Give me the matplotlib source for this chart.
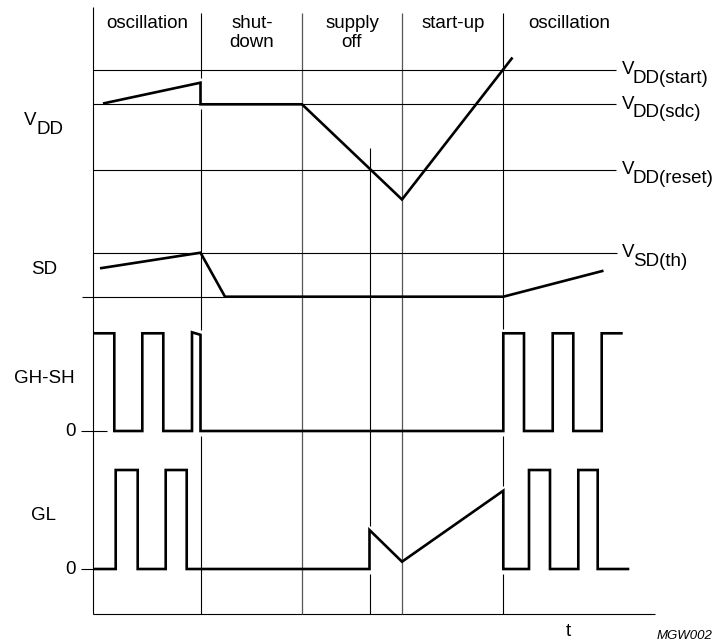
import matplotlib
matplotlib.use("Agg")
import matplotlib.pyplot as plt
import numpy as np

plt.rcParams['font.family'] = ['Liberation Sans', 'DejaVu Sans']

# ---------------- data (diagram units: time -> x, signal level -> y, y grows downward) ----------------
phase_names = ["oscillation", "shut-\ndown", "supply\noff", "start-up", "oscillation"]
phase_centers = [147, 252, 352, 453, 569]
phase_bounds = [200.5, 302, 402, 503.3]
supply_off_marker = 369.5

# threshold levels
vdd_levels = [69.5, 104.3, 169.5]
vdd_level_names = ["DD(start)", "DD(sdc)", "DD(reset)"]
sd_th_level = 252.5
sd_low_level = 296.7
sd_th_name = "SD(th)"

# VDD trace
vdd_t = [103, 200.5, 200.5, 302, 402, 512.5]
vdd_v = [103.5, 82.7, 104.3, 104.3, 199.5, 57.5]

# SD trace
sd_t = [100, 200.5, 225, 503.3, 603.5]
sd_v = [268.3, 252.7, 296.7, 296.7, 270.7]

# GH-SH trace
gh_high, gh_zero = 333.3, 431
gh_t = [93, 114.3, 114.3, 142.3, 142.3, 163.3, 163.3, 192, 192, 200.5, 200.5,
        503.3, 503.3, 524, 524, 552.7, 552.7, 573.3, 573.3, 601.7, 601.7, 622.7]
gh_v = [333.3, 333.3, 431, 431, 333.3, 333.3, 431, 431, 332.3, 334.8, 431,
        431, 333.3, 333.3, 431, 431, 333.3, 333.3, 431, 431, 333.3, 333.3]

# GL trace
gl_high, gl_zero = 470, 569
gl_t = [93, 115.7, 115.7, 137.7, 137.7, 165.7, 165.7, 186.7, 186.7, 369.5, 369.5,
        402, 503.3, 503.3, 529, 529, 550, 550, 578.3, 578.3, 597.7, 597.7, 629.3]
gl_v = [569, 569, 470, 470, 569, 569, 470, 470, 569, 569, 530,
        561.7, 490.7, 569, 569, 470, 470, 569, 569, 470, 470, 569, 569]

row_labels = ["SD", "GH-SH", "GL"]
row_label_y = [269, 378, 515]

# ---------------- figure ----------------
fig = plt.figure(figsize=(7.15, 6.44), dpi=100)
ax = fig.add_axes([0, 0, 1, 1])
ax.set_xlim(0, 715)
ax.set_ylim(644, 0)
ax.axis('off')

thin = dict(color='black', lw=0.8, solid_capstyle='butt', zorder=1)
grayl = dict(color='#555555', lw=0.9, solid_capstyle='butt', zorder=1)
trace = dict(color='black', lw=1.9, solid_joinstyle='miter', solid_capstyle='butt', zorder=4)

# axes lines
ax.plot([93, 93], [7, 614], **thin)
ax.plot([93, 655], [614, 614], **thin)

# phase dividers
for i, xb in enumerate(phase_bounds):
    style = grayl if i in (1, 2) else thin
    ax.plot([xb, xb], [13, 614], **style)
ax.plot([supply_off_marker, supply_off_marker], [148, 614], **thin)

# threshold lines
for lv in vdd_levels:
    ax.plot([93, 616], [lv, lv], **thin)
ax.plot([93, 617], [sd_th_level, sd_th_level], **thin)
ax.plot([82, 225], [sd_low_level, sd_low_level], **thin)

# zero ticks
ax.plot([81, 107], [gh_zero, gh_zero], **thin)
ax.plot([81, 93], [gl_zero, gl_zero], **thin)

# white gaps on dividers where a trace runs vertically along them
all_div = list(phase_bounds) + [supply_off_marker]
for tt, vv in [(vdd_t, vdd_v), (sd_t, sd_v), (gh_t, gh_v), (gl_t, gl_v)]:
    for k in range(len(tt) - 1):
        if tt[k] == tt[k + 1]:
            for xd in all_div:
                if abs(tt[k] - xd) < 1.5:
                    y0, y1 = sorted([vv[k], vv[k + 1]])
                    ax.plot([xd, xd], [y0 - 4.5, y1 + 4.5], color='white', lw=2.2,
                            solid_capstyle='butt', zorder=2)

# traces
ax.plot(vdd_t, vdd_v, **trace)
ax.plot(sd_t, sd_v, **trace)
ax.plot(gh_t, gh_v, **trace)
ax.plot(gl_t, gl_v, **trace)

fs = 13.5
# phase labels
for name, xc in zip(phase_names, phase_centers):
    ax.text(xc, 15, name, ha='center', va='top', fontsize=fs, linespacing=1.15)

# right-side level labels
for lv, nm in zip(vdd_levels, vdd_level_names):
    ax.text(622, lv, "V", ha='left', va='center', fontsize=fs)
    ax.text(633, lv + 8.5, nm, ha='left', va='center', fontsize=fs)
ax.text(622, sd_th_level, "V", ha='left', va='center', fontsize=fs)
ax.text(633, sd_th_level + 8.5, sd_th_name, ha='left', va='center', fontsize=fs)

# left-side labels
ax.text(24, 120, "V", ha='left', va='center', fontsize=fs)
ax.text(36, 129, "DD", ha='left', va='center', fontsize=fs)
for lab, yy in zip(row_labels, row_label_y):
    ax.text(44, yy, lab, ha='center', va='center', fontsize=fs)
ax.text(71, gh_zero, "0", ha='center', va='center', fontsize=fs)
ax.text(71, gl_zero, "0", ha='center', va='center', fontsize=fs)

# time axis label and figure code
ax.text(568, 632, "t", ha='center', va='center', fontsize=fs)
ax.text(712, 636, "MGW002", ha='right', va='center', fontsize=9.5, style='italic')

fig.savefig("out.png", dpi=100)
